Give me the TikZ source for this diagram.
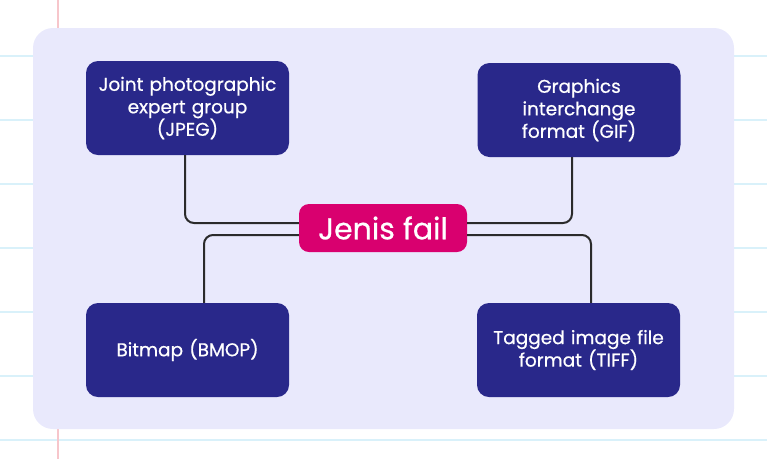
\documentclass[tikz,border=0pt]{standalone}
\usepackage{fontspec}
\setmainfont{Poppins}[FakeBold=0.6]
\usetikzlibrary{calc}
\definecolor{PanelClr}{HTML}{E9E9FC}
\definecolor{BoxClr}{HTML}{29288A}
\definecolor{HubClr}{HTML}{D9006F}
\definecolor{RuleClr}{HTML}{D9F1FA}
\definecolor{MarginClr}{HTML}{F7C6CB}
\definecolor{WireClr}{HTML}{2B2B2B}

\begin{document}
\begin{tikzpicture}[x=1pt,y=-1pt,
  typebox/.style={rounded corners=12pt,fill=BoxClr,text=white,
    minimum width=203pt,minimum height=94pt,text width=196pt,align=center,
    font=\fontsize{18.5}{22.5}\selectfont},
  hubbox/.style={rounded corners=10pt,fill=HubClr,text=white,
    minimum width=168pt,minimum height=48pt,font=\fontsize{30}{30}\selectfont},
  wire/.style={line width=2pt,color=WireClr,rounded corners=9pt}]
\useasboundingbox (0,0) rectangle (767,459);

% ruled paper
\foreach \y in {56,120,...,440}
  \draw[line width=2pt,color=RuleClr] (0,\y) -- (767,\y);
\draw[line width=1.5pt,color=MarginClr] (58,0) -- (58,459);

\fill[PanelClr,rounded corners=20pt] (33,28) rectangle (734,429);

\node[hubbox] (hub) at (383,228) {Jenis fail};
\node[typebox] (jpeg) at (187.5,108) {Joint photographic\\expert group\\(JPEG)};
\node[typebox] (gif) at (579,110) {Graphics\\interchange\\format (GIF)};
\node[typebox] (bmp) at (187.5,350) {Bitmap (BMOP)};
\node[typebox] (tiff) at (578.5,350) {Tagged image file\\format (TIFF)};

\draw[wire] ([xshift=-2.5pt]jpeg.south) |- ([yshift=5pt]hub.west);
\draw[wire] ([xshift=-7pt]gif.south) |- ([yshift=5pt]hub.east);
\draw[wire] ([xshift=16.5pt]bmp.north) |- ([yshift=-7pt]hub.west);
\draw[wire] ([xshift=12.5pt]tiff.north) |- ([yshift=-7pt]hub.east);

\end{tikzpicture}
\end{document}
